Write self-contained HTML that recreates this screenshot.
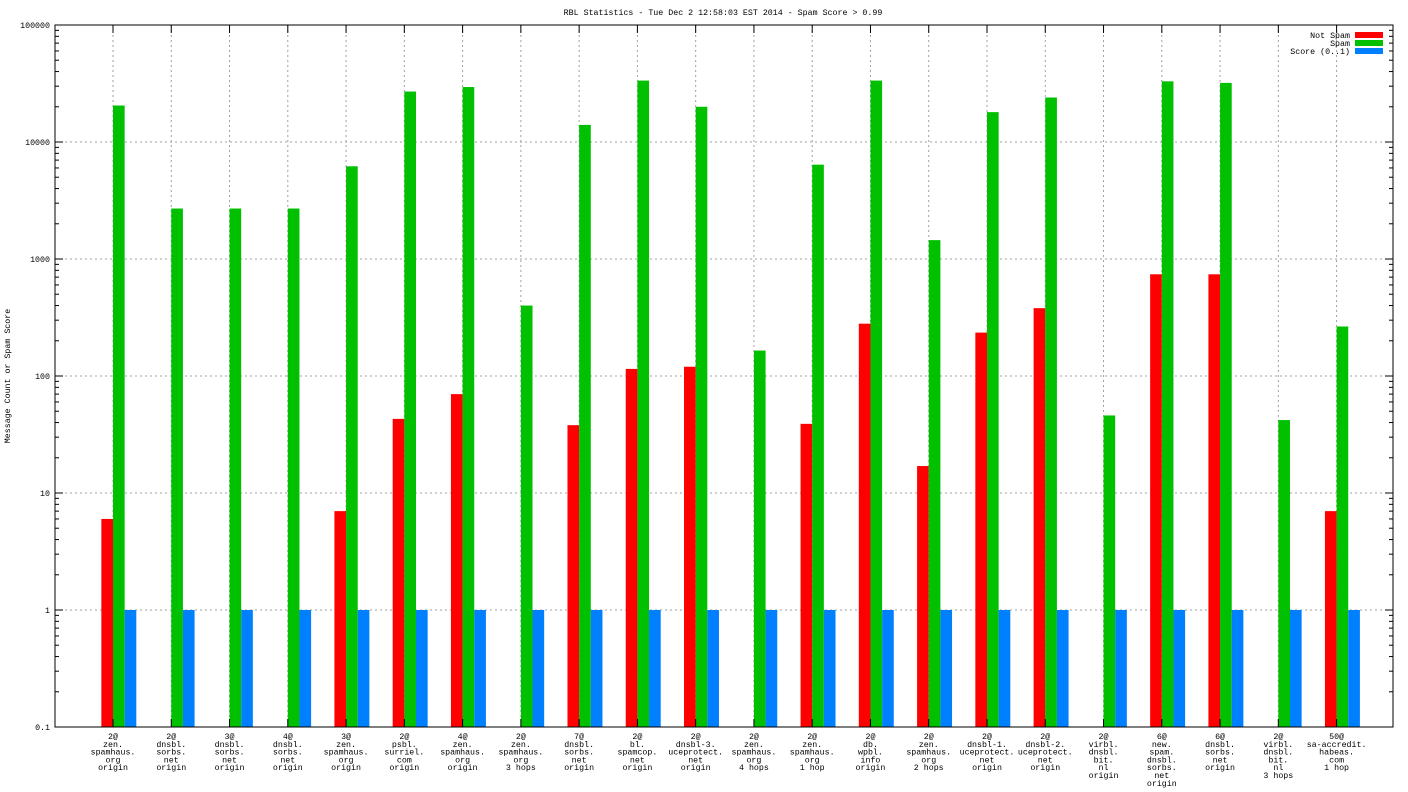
<!DOCTYPE html>
<html><head><meta charset="utf-8">
<style>
html,body{margin:0;padding:0;background:#fff;}
svg{display:block;font-family:"Liberation Mono","DejaVu Sans Mono",monospace;font-size:8.3px;}
</style></head>
<body>
<svg id="chart" width="1408" height="792">
<text x="723" y="15" text-anchor="middle">RBL Statistics - Tue Dec  2 12:58:03 EST 2014 - Spam Score &gt; 0.99</text>
<text transform="translate(10,376) rotate(-90)" text-anchor="middle">Message Count or Spam Score</text>
<g id="grid"></g><g id="bars"></g><g id="axes"></g>
<g>
<g><text x="1350" y="38" text-anchor="end">Not Spam</text><rect x="1355" y="32" width="28" height="6" fill="#ff0000"/></g>
<g><text x="1350" y="46" text-anchor="end">Spam</text><rect x="1355" y="40" width="28" height="6" fill="#00c000"/></g>
<g><text x="1350" y="54" text-anchor="end">Score (0..1)</text><rect x="1355" y="48" width="28" height="6" fill="#0080ff"/></g>
</g>
</svg>
<script>
const categories = [
 ["2@","zen.","spamhaus.","org","origin"],
 ["2@","dnsbl.","sorbs.","net","origin"],
 ["3@","dnsbl.","sorbs.","net","origin"],
 ["4@","dnsbl.","sorbs.","net","origin"],
 ["3@","zen.","spamhaus.","org","origin"],
 ["2@","psbl.","surriel.","com","origin"],
 ["4@","zen.","spamhaus.","org","origin"],
 ["2@","zen.","spamhaus.","org","3 hops"],
 ["7@","dnsbl.","sorbs.","net","origin"],
 ["2@","bl.","spamcop.","net","origin"],
 ["2@","dnsbl-3.","uceprotect.","net","origin"],
 ["2@","zen.","spamhaus.","org","4 hops"],
 ["2@","zen.","spamhaus.","org","1 hop"],
 ["2@","db.","wpbl.","info","origin"],
 ["2@","zen.","spamhaus.","org","2 hops"],
 ["2@","dnsbl-1.","uceprotect.","net","origin"],
 ["2@","dnsbl-2.","uceprotect.","net","origin"],
 ["2@","virbl.","dnsbl.","bit.","nl","origin"],
 ["6@","new.","spam.","dnsbl.","sorbs.","net","origin"],
 ["6@","dnsbl.","sorbs.","net","origin"],
 ["2@","virbl.","dnsbl.","bit.","nl","3 hops"],
 ["50@","sa-accredit.","habeas.","com","1 hop"]
];
const notSpam = [6,0,0,0,7,43,70,0,38,115,120,0,39,280,17,235,380,0,740,740,0,7];
const spam = [20500,2700,2700,2700,6200,27000,29500,400,14000,33500,20000,165,6400,33500,1450,18000,24000,46,33000,32000,42,265];
const score = [1,1,1,1,1,1,1,1,1,1,1,1,1,1,1,1,1,1,1,1,1,1];
const yTicks = ["0.1","1","10","100","1000","10000","100000"];

const NS="http://www.w3.org/2000/svg";
const L=55,R=1393,T=25,B=727;
const yMin=-1,yMax=5;
function y(v){return B-(Math.log10(v)-yMin)/(yMax-yMin)*(B-T);}
const c0=113,step=(1336.6-113)/(categories.length-1);
function x(i){return c0+i*step;}
const bw=step/5;
function mk(tag,attrs,parent){const e=document.createElementNS(NS,tag);for(const k in attrs)e.setAttribute(k,attrs[k]);parent.appendChild(e);return e;}
const grid=document.getElementById('grid'),bars=document.getElementById('bars'),axes=document.getElementById('axes');
yTicks.forEach((t,k)=>{const v=parseFloat(t);const yy=y(v);
 if(k>0&&k<yTicks.length-1){const g=mk('line',{x1:L,x2:R,y1:yy,y2:yy,stroke:'#a0a0a0','stroke-dasharray':'2,3'},grid);
 
 }
 const lab=mk('text',{x:L-5,y:yy+3,'text-anchor':'end'},axes);lab.textContent=t;
 
 
 mk('line',{x1:L,x2:L+8,y1:yy,y2:yy,stroke:'#000'},axes);
 mk('line',{x1:R,x2:R-8,y1:yy,y2:yy,stroke:'#000'},axes);
 if(k<yTicks.length-1){for(let m=2;m<10;m++){const my=y(v*m);
  mk('line',{x1:L,x2:L+4,y1:my,y2:my,stroke:'#000'},axes);
  mk('line',{x1:R,x2:R-4,y1:my,y2:my,stroke:'#000'},axes);}}
});
categories.forEach((c,i)=>{const cx=x(i);
 const g=mk('line',{x1:cx,x2:cx,y1:T,y2:B,stroke:'#a0a0a0','stroke-dasharray':'2,3'},grid);
 
 
 mk('line',{x1:cx,x2:cx,y1:B,y2:B-8,stroke:'#000'},axes);
 mk('line',{x1:cx,x2:cx,y1:T,y2:T+8,stroke:'#000'},axes);
 const t=mk('text',{'text-anchor':'middle'},axes);
 
 
 c.forEach((ln,j)=>{const s=mk('tspan',{x:cx,y:B+12+j*7.8},t);s.textContent=ln;});
 const series=[[notSpam,'#ff0000','bar-not-spam',-1],[spam,'#00c000','bar-spam',0],[score,'#0080ff','bar-score',1]];
 series.forEach(([arr,col,nm,off])=>{const v=arr[i];if(!(v>0.1))return;
  const yy=y(v);const r=mk('rect',{x:cx+off*bw,y:yy,width:bw,height:B-yy,fill:col},bars);
  
  });
});
const frame=mk('rect',{x:L,y:T,width:R-L,height:B-T,fill:'none',stroke:'#000','stroke-width':1},axes);


</script>
</body></html>
